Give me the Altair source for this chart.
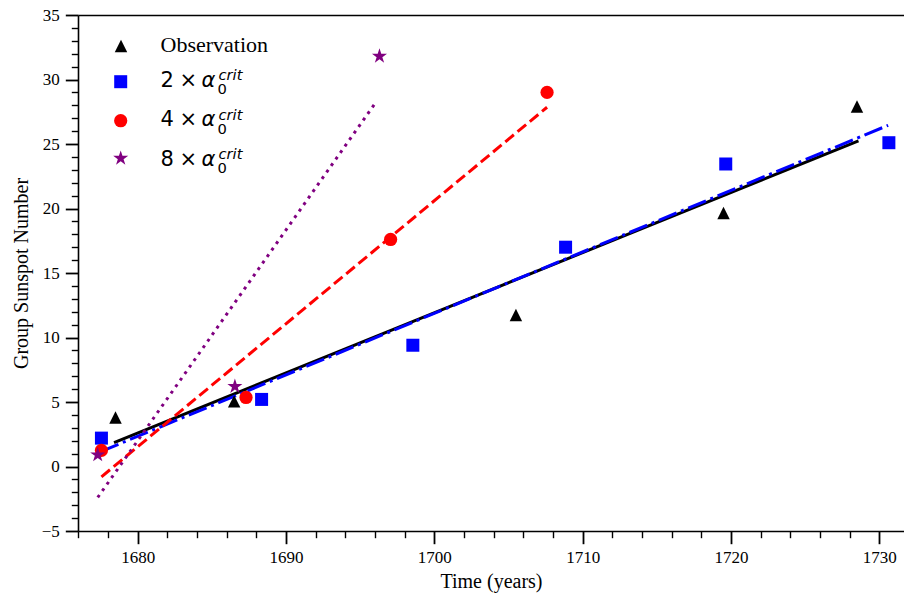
import altair as alt
import pandas as pd

# ---------------- data ----------------
obs_x = [1678.5, 1686.5, 1705.5, 1719.5, 1728.5]
obs_y = [3.8, 5.05, 11.75, 19.65, 27.9]

a2_x = [1677.55, 1688.35, 1698.55, 1708.85, 1719.65, 1730.65]
a2_y = [2.2, 5.2, 9.4, 17.0, 23.45, 25.1]

a4_x = [1677.55, 1687.3, 1697.05, 1707.6]
a4_y = [1.25, 5.35, 17.6, 29.0]

a8_x = [1677.3, 1686.55, 1696.3]
a8_y = [0.9, 6.2, 31.8]

# fitted trend lines (end points)
fit_obs_x = [1678.4, 1728.6]
fit_obs_y = [1.85, 25.25]
fit_a2_x = [1677.5, 1730.6]
fit_a2_y = [1.15, 26.45]
fit_a4_x = [1677.55, 1707.6]
fit_a4_y = [-0.8, 27.85]
fit_a8_x = [1677.3, 1696.1]
fit_a8_y = [-2.4, 28.3]

x_major = [1680, 1690, 1700, 1710, 1720, 1730]
x_minor = [v for v in range(1676, 1732, 2) if v % 10 != 0]
y_major = [-5, 0, 5, 10, 15, 20, 25, 30, 35]
y_minor = [v for v in range(-5, 36) if v % 5 != 0]

legend_digits = ["2", "4", "8"]

# ---------------- styling ----------------
SERIF = "Liberation Serif"
SANS = "DejaVu Sans"
TRI = "M0,-1L1,1L-1,1Z"
STAR = ("M0,-1L0.2245,-0.309L0.9511,-0.309L0.3633,0.118L0.5878,0.809L0,0.382"
        "L-0.5878,0.809L-0.3633,0.118L-0.9511,-0.309L-0.2245,-0.309Z")

PAD_L, PAD_T = 78, 15

XDOM = [1675.97, 1731.67]
YDOM = [-5, 35]
xs = alt.Scale(domain=XDOM, nice=False, zero=False)
ys = alt.Scale(domain=YDOM, nice=False, zero=False)

dummy = pd.DataFrame({"x": [1700.0], "y": [0.0]})
one = pd.DataFrame({"k": [0]})

# major axes
major = alt.Chart(dummy).mark_point(opacity=0).encode(
    x=alt.X("x:Q", scale=xs, axis=alt.Axis(
        values=x_major, orient="bottom", format="d", title="Time (years)", grid=False,
        tickSize=12.7, tickWidth=1.8, tickColor="black",
        domain=True, domainColor="black", domainWidth=1.6,
        labelFont=SERIF, labelFontSize=17, labelColor="black", labelPadding=6,
        labelFlush=False, labelOverlap=False,
        titleFont=SERIF, titleFontSize=20, titleFontWeight="normal", titleColor="black",
        titlePadding=6)),
    y=alt.Y("y:Q", scale=ys, axis=alt.Axis(
        values=y_major, orient="left", format="d", title="Group Sunspot Number", grid=False,
        tickSize=12.7, tickWidth=1.8, tickColor="black",
        domain=True, domainColor="black", domainWidth=1.6,
        labelFont=SERIF, labelFontSize=17, labelColor="black", labelPadding=6,
        labelFlush=False, labelOverlap=False,
        titleFont=SERIF, titleFontSize=20, titleFontWeight="normal", titleColor="black",
        titlePadding=10)),
)

# minor axes
minor = alt.Chart(dummy).mark_point(opacity=0).encode(
    x=alt.X("x:Q", scale=xs, axis=alt.Axis(
        values=x_minor, orient="bottom", labels=False, title=None, grid=False, domain=False,
        tickSize=6.7, tickWidth=1.4, tickColor="black")),
    y=alt.Y("y:Q", scale=ys, axis=alt.Axis(
        values=y_minor, orient="left", labels=False, title=None, grid=False, domain=False,
        tickSize=6.7, tickWidth=1.4, tickColor="black")),
)

# top frame line
top = alt.Chart(dummy).mark_point(opacity=0).encode(
    x=alt.X("x:Q", scale=xs, axis=alt.Axis(
        orient="top", labels=False, ticks=False, title=None, grid=False,
        domain=True, domainColor="black", domainWidth=1.6)),
    y=alt.Y("y:Q", scale=ys, axis=None),
)


def fit_line(xv, yv, color, dash, width=3):
    df = pd.DataFrame({"x": xv, "y": yv})
    kw = dict(color=color, strokeWidth=width, strokeCap="butt")
    if dash:
        kw["strokeDash"] = dash
    return alt.Chart(df).mark_line(**kw).encode(
        x=alt.X("x:Q", scale=xs, axis=None),
        y=alt.Y("y:Q", scale=ys, axis=None),
    )


def scatter(xv, yv, color, shape, size):
    df = pd.DataFrame({"x": xv, "y": yv})
    return alt.Chart(df).mark_point(
        filled=True, shape=shape, size=size, color=color, opacity=1, strokeWidth=0
    ).encode(
        x=alt.X("x:Q", scale=xs, axis=None),
        y=alt.Y("y:Q", scale=ys, axis=None),
    )


lines = [
    fit_line(fit_obs_x, fit_obs_y, "black", None),
    fit_line(fit_a2_x, fit_a2_y, "#0000ff", [19.2, 4.8, 3, 4.8]),
    fit_line(fit_a4_x, fit_a4_y, "#ff0000", [11.1, 4.8]),
    fit_line(fit_a8_x, fit_a8_y, "#800080", [3, 4.95]),
]
STAR_SIZE = 250
points = [
    scatter(obs_x, obs_y, "black", TRI, 155),
    scatter(a2_x, a2_y, "#0000ff", "square", 169),
    scatter(a4_x, a4_y, "#ff0000", "circle", 175),
    scatter(a8_x, a8_y, "#800080", STAR, STAR_SIZE),
]

# ---------------- legend (manual, to mix fonts like the original) ----------------
leg = []


def leg_sym(x, y, color, shape, size):
    return alt.Chart(one).mark_point(
        filled=True, shape=shape, size=size, color=color, opacity=1, strokeWidth=0
    ).encode(x=alt.value(x - PAD_L), y=alt.value(y - PAD_T))


def leg_txt(x, y, text, font, size, style="normal"):
    return alt.Chart(one).mark_text(
        text=text, align="left", baseline="alphabetic", font=font, fontSize=size,
        fontStyle=style, color="black"
    ).encode(x=alt.value(x - PAD_L), y=alt.value(y - PAD_T))


leg.append(leg_sym(121, 46, "black", TRI, 155))
leg.append(leg_txt(160.5, 52.3, "Observation", SERIF, 22))

sym_specs = [("#0000ff", "square", 169, 81.7), ("#ff0000", "circle", 175, 120.7),
             ("#800080", STAR, STAR_SIZE, 158.3)]
baselines = [86.7, 126.2, 166.0]
for d, (col, shp, sz, sy), b in zip(legend_digits, sym_specs, baselines):
    leg.append(leg_sym(120.7, sy, col, shp, sz))
    leg.append(leg_txt(160.5, b, d, SANS, 21))
    leg.append(leg_txt(179.5, b, "\u00d7", SANS, 21))
    leg.append(leg_txt(201.5, b, "\u03b1", SANS, 21, "italic"))
    leg.append(leg_txt(217.5, b + 7.3, "0", SANS, 14.7))
    leg.append(leg_txt(218.5, b - 6.7, "crit", SANS, 14.7, "italic"))

chart = alt.layer(major, minor, top, *lines, *points, *leg).resolve_axis(
    x="independent", y="independent"
).properties(
    width=826,
    height=516,
    autosize=alt.AutoSizeParams(type="none"),
    padding={"left": PAD_L, "top": PAD_T, "right": 0, "bottom": 68},
    background="white",
).configure_view(stroke=None).configure_axis(
    labelFont=SERIF, labelFontSize=17, labelColor="black",
    titleFont=SERIF, titleFontSize=20, titleFontWeight="normal", titleColor="black",
)

chart.save("out.html", embed_options={"renderer": "svg", "actions": False})
